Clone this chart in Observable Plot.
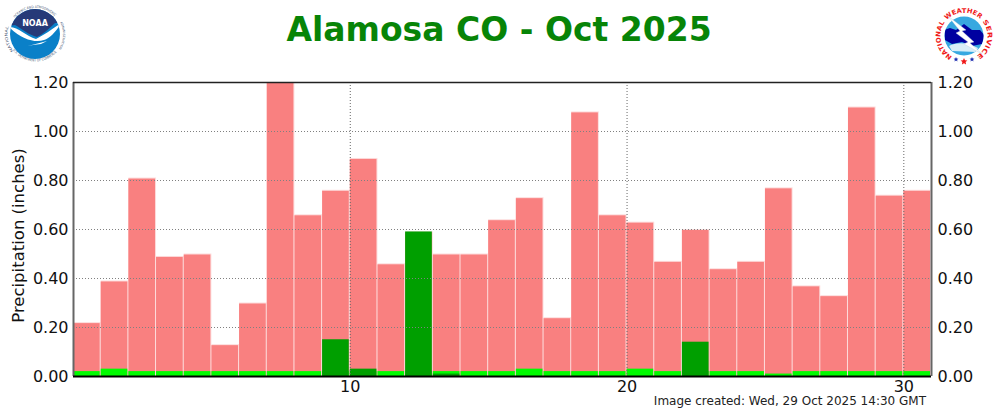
<!DOCTYPE html>
<html>
<head>
<meta charset="utf-8">
<script src="https://cdn.jsdelivr.net/npm/d3@7"></script>
<script src="https://cdn.jsdelivr.net/npm/@observablehq/plot@0.6"></script>
<style>
html,body{margin:0;padding:0;background:#fff;}
#wrap{position:relative;width:1000px;height:412px;overflow:hidden;font-family:"DejaVu Sans",sans-serif;}
#title{position:absolute;left:0;top:7px;width:998px;text-align:center;font-size:33px;font-weight:bold;color:#078407;line-height:46px;}
#caption{position:absolute;right:74px;top:394px;font-size:12px;line-height:14px;color:#222;}
.logo{position:absolute;top:0;}
#chart svg{display:block;}
</style>
</head>
<body>
<div id="wrap">
<div id="chart"></div>
<div id="title">Alamosa CO - Oct 2025</div>
<div id="caption">Image created: Wed, 29 Oct 2025 14:30 GMT</div>
<svg class="logo" style="left:0" width="70" height="70" viewBox="0 0 70 70">
  <defs>
    <path id="noaaA" d="M13.5 51 A27 27 0 0 1 9.5 24"/>
    <path id="noaaB" d="M15 18 A26 26 0 0 1 56 18"/>
    <path id="noaaC" d="M60 22 A27 27 0 0 1 58 50"/>
    <path id="noaaBot" d="M13 50 A28 28 0 0 0 59 49"/>
    <clipPath id="noaaClip"><circle cx="35" cy="34" r="25"/></clipPath>
  </defs>
  <g fill="#4a5a78" font-family="DejaVu Sans">
    <text font-size="3.8"><textPath href="#noaaA" lengthAdjust="spacingAndGlyphs" textLength="26">NATIONAL</textPath></text>
    <text font-size="3.4"><textPath href="#noaaB" lengthAdjust="spacingAndGlyphs" textLength="45">OCEANIC AND ATMOSPHERIC</textPath></text>
    <text font-size="3"><textPath href="#noaaC" lengthAdjust="spacingAndGlyphs" textLength="28">ADMINISTRATION</textPath></text>
    <text font-size="3.8"><textPath href="#noaaBot" lengthAdjust="spacingAndGlyphs" textLength="50">U.S. DEPARTMENT OF COMMERCE</textPath></text>
  </g>
  <circle cx="35" cy="34" r="25" fill="#0a80c8"/>
  <g clip-path="url(#noaaClip)">
    <path d="M8 6 H62 V23 L55 23 C49 29 43 34 37 37 C29 35 22 29 15 25 L8 26 Z" fill="#263a78"/>
    <path d="M9 27 C17 26 26 36 36 39 C44 35 52 29 61 23 C56 32 50 38 44 40 C36 43 22 40 9 27 Z" fill="#fff"/>
    <path d="M28 46 L47 41 L41 44 L33 45 Z" fill="#fff"/>
  </g>
  <text x="35" y="26" font-size="8" font-weight="bold" text-anchor="middle" fill="#fff" font-family="DejaVu Sans">NOAA</text>
</svg>
<svg class="logo" style="left:930px" width="70" height="70" viewBox="930 0 70 70">
  <defs>
    <path id="nwsA" d="M952.3 56.4 A23.5 23.5 0 0 1 945.5 21.5"/>
    <path id="nwsB" d="M946.8 20 A23.5 23.5 0 0 1 980.6 19.4"/>
    <path id="nwsC" d="M982.5 21.5 A23.5 23.5 0 0 1 975.7 56.4"/>
    <clipPath id="nwsClip"><circle cx="964" cy="36" r="19.5"/></clipPath>
  </defs>
  <g font-size="6.5" font-weight="bold" fill="#f01818" font-family="DejaVu Sans">
    <text><textPath href="#nwsA" lengthAdjust="spacingAndGlyphs" textLength="39">NATIONAL</textPath></text>
    <text><textPath href="#nwsB" lengthAdjust="spacingAndGlyphs" textLength="37">WEATHER</textPath></text>
    <text><textPath href="#nwsC" lengthAdjust="spacingAndGlyphs" textLength="39">SERVICE</textPath></text>
  </g>
  <circle cx="964" cy="36" r="19.5" fill="#38a8e0"/>
  <g clip-path="url(#nwsClip)">
    <path d="M944 30 L950 28 L956 30 L964 24 L972 30 L980 30 L985 36 L982 44 L972 46 L962 42 L952 44 L945 40 Z" fill="#0000a0"/>
    <path d="M949 46 C956 42 968 42 978 48 L976 52 L952 51 Z" fill="#d8eef8"/>
  </g>
  <path d="M948 16 L966 30 L962 31 L974 42 L970 43 L982 54 L964 44 L968 42 L956 33 L960 31 Z" fill="#fff" stroke="#bcd" stroke-width=".4"/>
  <path d="M956 57 l.7 1.6 1.7.1-1.3 1.1.4 1.7-1.5-.9-1.5.9.4-1.7-1.3-1.1 1.7-.1 Z" fill="#1f2fb0"/>
  <path d="M964 58 l1 2.3 2.4.2-1.8 1.6.5 2.4-2.1-1.3-2.1 1.3.5-2.4-1.8-1.6 2.4-.2 Z" fill="#f01818"/>
  <path d="M972 57 l.7 1.6 1.7.1-1.3 1.1.4 1.7-1.5-.9-1.5.9.4-1.7-1.3-1.1 1.7-.1 Z" fill="#1f2fb0"/>
</svg>
</div>
<script>
const days     = d3.range(1, 32);
const upper    = [0.22,0.39,0.81,0.49,0.50,0.13,0.30,1.20,0.66,0.76,0.89,0.46,0.59,0.50,0.50,0.64,0.73,0.24,1.08,0.66,0.63,0.47,0.60,0.44,0.47,0.77,0.37,0.33,1.10,0.74,0.76];
const normal   = [0.02,0.03,0.02,0.02,0.02,0.02,0.02,0.02,0.02,0.02,0.02,0.02,0.02,0.02,0.02,0.02,0.03,0.02,0.02,0.02,0.03,0.02,0.02,0.02,0.02,0.01,0.02,0.02,0.02,0.02,0.02];
const observed = [0,0,0,0,0,0,0,0,0,0.15,0.03,0,0.59,0.01,0,0,0,0,0,0,0,0,0.14,0,0,0,0,0,0,0,0];
const yTicks   = [0,0.2,0.4,0.6,0.8,1.0,1.2];
const xTicks   = [10,20,30];

const table = days.map((d,i)=>({day:d,upper:upper[i],normal:normal[i],observed:observed[i]}));
const bar = (key, fill, extra={}) => Plot.rectY(table.filter(r=>r[key]>0), {
  x1:r=>r.day-1, x2:r=>r.day, y1:0, y2:key, fill, insetRight:1, ...extra
});

const chart = Plot.plot({
  width:1000, height:412,
  marginLeft:73, marginRight:69, marginTop:82, marginBottom:36,
  style:{fontFamily:"DejaVu Sans",fontSize:"16px",color:"#111",background:"transparent"},
  x:{domain:[0,31],label:null},
  y:{domain:[0,1.2],label:null},
  marks:[
    Plot.rectY(table,{x1:r=>r.day-1,x2:r=>r.day,y1:0,y2:"upper",fill:"#fddcdc"}),
    bar("upper","#f98080",{insetTop:1}),
    bar("normal","#00fb00"),
    bar("observed","#009f00"),
    Plot.ruleY(yTicks.slice(1,-1),{stroke:"#808080",strokeWidth:1,strokeDasharray:"1,2"}),
    Plot.ruleX(xTicks,{stroke:"#666",strokeWidth:1,strokeDasharray:"1,2"}),
    Plot.ruleX([0,31],{stroke:"#666",strokeWidth:2}),
    Plot.ruleY([0],{stroke:"#000",strokeWidth:2}),
    Plot.ruleY([1.2],{stroke:"#222",strokeWidth:1.5}),
    Plot.axisY({anchor:"left",ticks:yTicks,tickSize:0,tickPadding:5,tickFormat:d3.format(".2f"),label:null}),
    Plot.axisY({anchor:"right",ticks:yTicks,tickSize:0,tickPadding:6,tickFormat:d3.format(".2f"),label:null}),
    Plot.axisX({ticks:xTicks,tickSize:0,tickPadding:4,label:null}),
    Plot.text(["Precipitation (inches)"],{frameAnchor:"left",rotate:-90,dx:-55,dy:6,textAnchor:"middle",fontSize:16.5,fill:"#111"})
  ]
});
document.getElementById("chart").appendChild(chart);
</script>
</body>
</html>
